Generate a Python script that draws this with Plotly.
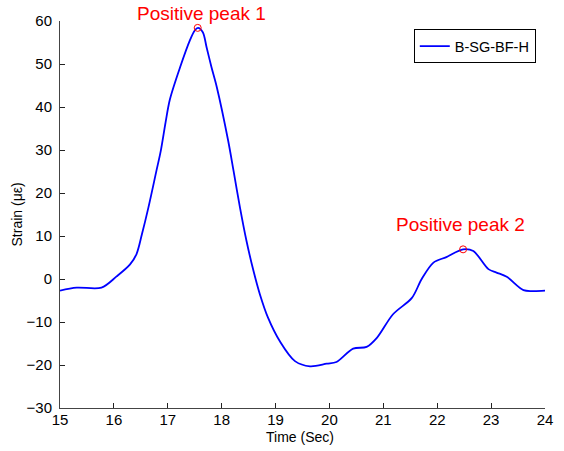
import plotly.graph_objects as go

time_s = [15.0, 15.31, 15.77, 16.05, 16.30, 16.42, 16.52, 16.64, 16.79, 16.87, 16.96, 17.04, 17.23,
          17.41, 17.50, 17.56, 17.65, 17.72, 17.81, 17.91, 18.12, 18.22, 18.34, 18.46,
          18.59, 18.71, 18.86, 19.08, 19.36, 19.64, 19.95, 20.13, 20.44, 20.69, 20.88, 21.18, 21.53,
          21.71, 21.93, 22.17, 22.48, 22.67, 22.95, 23.10, 23.29, 23.60, 23.78, 24.0]
strain = [-2.7, -2.0, -2.0, 0.6, 3.4, 5.8, 10.4, 16.6, 25.2, 29.8, 36.5, 41.8, 49.3,
          55.5, 57.8, 58.4, 57.4, 53.9, 49.3, 44.6, 32.2, 25.2, 16.6, 8.9,
          1.9, -3.6, -9.0, -14.5, -19.1, -20.3, -19.7, -19.3, -16.2, -15.8, -13.7, -8.2, -4.4,
          -0.05, 3.8, 5.1, 6.9, 6.5, 2.3, 1.5, 0.5, -2.6, -2.8, -2.7]

peak_x = [17.555, 22.48]
peak_y = [58.4, 6.9]
peak_labels = ["Positive peak 1", "Positive peak 2"]
label_x = [17.62, 22.44]
label_y = [58.9, 9.7]

x_ticks = list(range(15, 25))
y_ticks = list(range(-30, 61, 10))

fig = go.Figure()
fig.add_trace(go.Scatter(x=time_s, y=strain, mode="lines", name="B-SG-BF-H",
                         line=dict(color="#0000ff", width=1.8, shape="spline", smoothing=0.9)))
fig.add_trace(go.Scatter(x=peak_x, y=peak_y, mode="markers", showlegend=False,
                         marker=dict(symbol="circle-open", size=7, color="#ff0000",
                                     line=dict(width=1, color="#ff0000"))))

for lx, ly, t in zip(label_x, label_y, peak_labels):
    fig.add_annotation(x=lx, y=ly, text=t, showarrow=False, xanchor="center", yanchor="bottom",
                       font=dict(family="Arial", size=19, color="#ff0000"))

fig.add_annotation(xref="paper", yref="paper", x=0.495, y=-0.075, text="Time (Sec)",
                   showarrow=False, xanchor="center", yanchor="middle",
                   font=dict(family="Arial", size=14, color="#000000"))
fig.add_annotation(xref="paper", yref="paper", x=-0.0887, y=0.5, text="Strain (με)",
                   showarrow=False, xanchor="center", yanchor="middle", textangle=-90,
                   font=dict(family="Arial", size=14, color="#000000"))

axis_common = dict(showgrid=False, zeroline=False, showline=True, linecolor="#444444",
                   linewidth=1, ticks="inside", ticklen=5, tickcolor="#222222",
                   tickfont=dict(family="Arial", size=15, color="#000000"))
fig.update_xaxes(range=[15, 24], tickvals=x_ticks, ticklabelstandoff=-2, **axis_common)
fig.update_yaxes(range=[-30, 60], tickvals=y_ticks, ticklabelstandoff=4, **axis_common)

fig.update_layout(
    width=564, height=451,
    margin=dict(l=60, r=19, t=21, b=43, autoexpand=False),
    paper_bgcolor="white", plot_bgcolor="white",
    showlegend=True,
    legend=dict(x=0.981, y=0.979, xanchor="right", yanchor="top",
                bgcolor="white", bordercolor="#000000", borderwidth=1,
                font=dict(family="Arial", size=14.5, color="#000000"),
                itemwidth=30, tracegroupgap=0),
)

fig.write_html("out.html")
